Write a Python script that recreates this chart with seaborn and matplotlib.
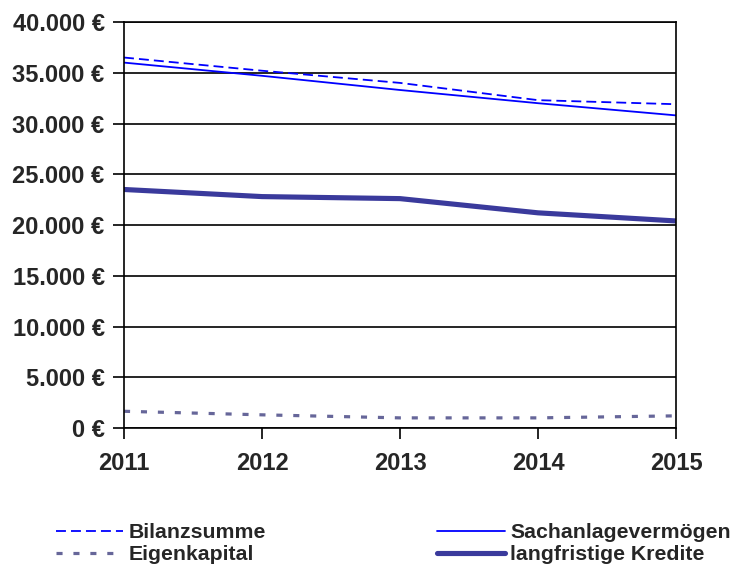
import numpy as np
import pandas as pd
import matplotlib.pyplot as plt
import seaborn as sns
from matplotlib.ticker import FuncFormatter

years = [2011, 2012, 2013, 2014, 2015]
bilanzsumme = [36500, 35200, 34000, 32300, 31900]
sachanlage = [36000, 34700, 33300, 32000, 30800]
eigenkapital = [1650, 1300, 1000, 1000, 1200]
kredite = [23500, 22800, 22600, 21200, 20400]

sns.set_style("white")
plt.rcParams['font.family'] = ['Liberation Sans', 'DejaVu Sans']
plt.rcParams['font.weight'] = 'bold'

fig = plt.figure(figsize=(7.36, 5.67), dpi=100)
ax = fig.add_axes([0.1685, 0.2451, 0.75, 0.7161])

sns.lineplot(x=years, y=bilanzsumme, ax=ax, color='#0000FF', lw=1.3,
             label='Bilanzsumme')
ax.lines[-1].set_dashes((5.5, 2.8))
sns.lineplot(x=years, y=sachanlage, ax=ax, color='#0000FF', lw=1.3,
             label='Sachanlagevermögen')
sns.lineplot(x=years, y=eigenkapital, ax=ax, color='#666699', lw=2.3,
             label='Eigenkapital')
ax.lines[-1].set_dashes((1.9, 3.4))
sns.lineplot(x=years, y=kredite, ax=ax, color='#3A3A9C', lw=3.7,
             label='langfristige Kredite')

ax.set_xlim(2011, 2015)
ax.set_ylim(0, 40000)
ax.set_xticks(years)
ax.set_yticks(np.arange(0, 40001, 5000))
ax.yaxis.set_major_formatter(FuncFormatter(lambda v, p: f"{int(v):,} €".replace(',', '.')))
ax.grid(axis='y', color='black', lw=1.2)
ax.set_axisbelow(True)
for s in ax.spines.values():
    s.set_color('black')
    s.set_linewidth(1.2)
ax.tick_params(axis='both', which='major', direction='out', length=8, width=1.2,
               color='black', labelsize=17, bottom=True, left=True)
ax.tick_params(axis='y', pad=6)
ax.tick_params(axis='x', pad=9)
for lbl in ax.get_xticklabels() + ax.get_yticklabels():
    lbl.set_fontweight('bold')

handles, labels = ax.get_legend_handles_labels()
ax.get_legend().remove()
leg1 = fig.legend([handles[0], handles[2]], [labels[0], labels[2]],
                  loc='upper left', bbox_to_anchor=(0.076, 0.0776), frameon=False,
                  fontsize=15.3, handlelength=3.15, handletextpad=0.28, labelspacing=0.15,
                  borderaxespad=0, borderpad=0)
leg2 = fig.legend([handles[1], handles[3]], [labels[1], labels[3]],
                  loc='upper left', bbox_to_anchor=(0.594, 0.0776), frameon=False,
                  fontsize=15.3, handlelength=3.2, handletextpad=0.24, labelspacing=0.15,
                  borderaxespad=0, borderpad=0)
for t in leg1.get_texts() + leg2.get_texts():
    t.set_fontweight('bold')

plt.savefig('out.png', dpi=100, facecolor='white')
